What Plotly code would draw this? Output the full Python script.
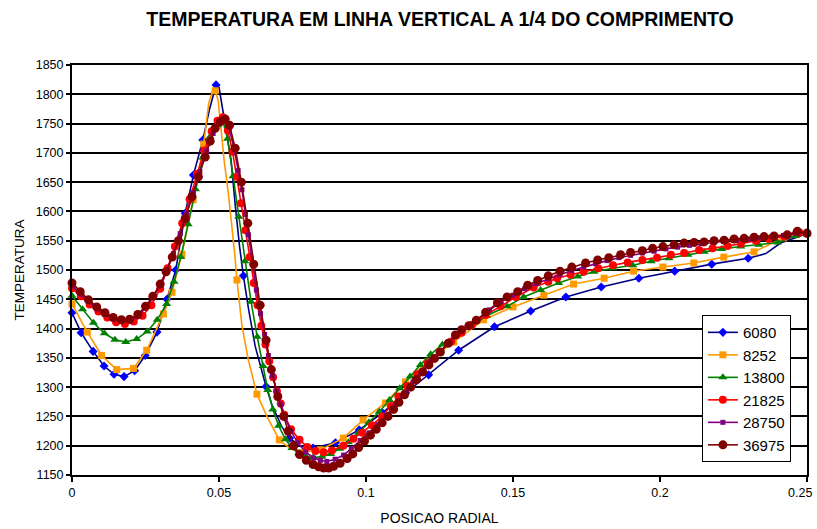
import plotly.graph_objects as go

# ---------------- data ----------------
names = ["6080", "8252", "13800", "21825", "28750", "36975"]

# 6080: marker points and extra line vertices
x_6080 = [0, 0.0031, 0.0072, 0.0109, 0.0143, 0.0177, 0.0213, 0.0249, 0.0289, 0.0323,
          0.0353, 0.0385, 0.0413, 0.0445, 0.0490, 0.0583, 0.0660, 0.0740, 0.0820, 0.0896,
          0.0977, 0.1056, 0.1135, 0.1213, 0.1315, 0.1437, 0.1560, 0.1680, 0.1800, 0.1928,
          0.2050, 0.2176, 0.2300, 0.2500]
t_6080 = [1427, 1393, 1361, 1336, 1322, 1318, 1328, 1354, 1394, 1450,
          1500, 1597, 1662, 1722, 1816, 1490, 1301, 1213, 1196, 1205,
          1227, 1256, 1290, 1321, 1363, 1403, 1430, 1454, 1471, 1486,
          1498, 1510, 1520, 1562]
x_6080_line = [0.0468, 0.0500, 0.0521, 0.0541, 0.0555, 0.0570, 0.0600, 0.0623, 0.0646,
               0.0680, 0.0714, 0.0780, 0.2360, 0.2410]
t_6080_line = [1775, 1812, 1748, 1688, 1612, 1540, 1435, 1370, 1325,
               1270, 1232, 1199, 1528, 1546]

# 8252
x_8252 = [0, 0.0052, 0.0101, 0.0152, 0.0209, 0.0254, 0.0311, 0.0340, 0.0374, 0.0412,
          0.0448, 0.0487, 0.0561, 0.0629, 0.0705, 0.0775, 0.0845, 0.0923, 0.0990, 0.1066,
          0.1134, 0.1210, 0.1298, 0.1400, 0.1500, 0.1605, 0.1706, 0.1810, 0.1910, 0.2010,
          0.2115, 0.2217, 0.2320, 0.2420, 0.2500]
t_8252 = [1442, 1394, 1354, 1330, 1332, 1363, 1425, 1462, 1527, 1620,
          1715, 1806, 1483, 1288, 1210, 1188, 1193, 1213, 1244, 1273,
          1309, 1343, 1377, 1415, 1437, 1457, 1476, 1486, 1498, 1505,
          1512, 1522, 1531, 1555, 1562]
x_8252_line = [0.0465, 0.0477, 0.0497, 0.0505, 0.0518, 0.0532, 0.0544, 0.0553, 0.0578,
               0.0600, 0.0663, 0.0740]
t_8252_line = [1785, 1804, 1790, 1745, 1685, 1630, 1578, 1530, 1405,
               1346, 1250, 1196]

# 13800
x_13800 = [0, 0.0036, 0.0073, 0.0110, 0.0146, 0.0183, 0.0220, 0.0256, 0.0290, 0.0322,
           0.0347, 0.0370, 0.0395, 0.0420, 0.0445, 0.0470, 0.0495, 0.0515, 0.0529, 0.0548,
           0.0567, 0.0588, 0.0609, 0.0630, 0.0650, 0.0666, 0.0683, 0.0703, 0.0726, 0.0748,
           0.0771, 0.0795, 0.0820, 0.0850, 0.0880, 0.0910, 0.0940, 0.0975, 0.1010, 0.1045,
           0.1080, 0.1115, 0.1150, 0.1185, 0.1220, 0.1260, 0.1305, 0.1355, 0.1410, 0.1480,
           0.1536, 0.1594, 0.1655, 0.1720, 0.1775, 0.1840, 0.1907, 0.1970, 0.2030, 0.2095,
           0.2150, 0.2210, 0.2275, 0.2336, 0.2400, 0.2460, 0.2500]
t_13800 = [1456, 1433, 1410, 1392, 1381, 1377, 1382, 1395, 1415, 1442,
           1480, 1522, 1578, 1638, 1692, 1728, 1747, 1751, 1724, 1660,
           1591, 1515, 1446, 1386, 1336, 1295, 1262, 1234, 1211, 1196,
           1187, 1182, 1180, 1181, 1186, 1195, 1206, 1222, 1240, 1258,
           1278, 1298, 1318, 1338, 1356, 1373, 1388, 1403, 1422, 1438,
           1454, 1466, 1478, 1489, 1497, 1503, 1508, 1515, 1520, 1526,
           1531, 1536, 1540, 1543, 1547, 1558, 1562]

# 21825
x_21825 = [0, 0.0030, 0.0060, 0.0090, 0.0120, 0.0150, 0.0180, 0.0210, 0.0240, 0.0270,
           0.0300, 0.0325, 0.0350, 0.0375, 0.0400, 0.0425, 0.0450, 0.0475, 0.0495, 0.0513,
           0.0530, 0.0546, 0.0561, 0.0575, 0.0590, 0.0604, 0.0618, 0.0631, 0.0644, 0.0658,
           0.0671, 0.0684, 0.0697, 0.0710, 0.0722, 0.0745, 0.0774, 0.0800, 0.0828, 0.0856,
           0.0884, 0.0923, 0.0957, 0.0987, 0.1020, 0.1055, 0.1085, 0.1110, 0.1140, 0.1175,
           0.1210, 0.1250, 0.1290, 0.1325, 0.1360, 0.1407, 0.1458, 0.1510, 0.1570, 0.1620,
           0.1650, 0.1696, 0.1740, 0.1790, 0.1840, 0.1890, 0.1940, 0.1990, 0.2037, 0.2082,
           0.2133, 0.2179, 0.2230, 0.2275, 0.2326, 0.2370, 0.2423, 0.2474, 0.2500]
t_21825 = [1469, 1455, 1441, 1429, 1419, 1411, 1408, 1412, 1422, 1440,
           1468, 1503, 1540, 1580, 1621, 1664, 1704, 1737, 1755, 1761,
           1738, 1702, 1659, 1614, 1568, 1522, 1478, 1440, 1405, 1373,
           1344, 1317, 1293, 1272, 1253, 1228, 1210, 1198, 1191, 1189,
           1192, 1200, 1212, 1222, 1235, 1250, 1268, 1284, 1302, 1322,
           1341, 1360, 1378, 1393, 1406, 1423, 1438, 1454, 1470, 1480,
           1486, 1492, 1497, 1503, 1508, 1513, 1517, 1521, 1526, 1529,
           1534, 1537, 1541, 1545, 1550, 1553, 1557, 1564, 1562]

# 28750
x_28750 = [0, 0.0028, 0.0056, 0.0084, 0.0112, 0.0140, 0.0168, 0.0196, 0.0224, 0.0250,
           0.0275, 0.0300, 0.0322, 0.0345, 0.0368, 0.0390, 0.0412, 0.0435, 0.0458, 0.0480,
           0.0500, 0.0518, 0.0533, 0.0550, 0.0565, 0.0578, 0.0590, 0.0600, 0.0614, 0.0627,
           0.0641, 0.0655, 0.0668, 0.0682, 0.0696, 0.0710, 0.0725, 0.0745, 0.0768, 0.0795,
           0.0822, 0.0845, 0.0867, 0.0895, 0.0924, 0.0950, 0.0980, 0.1010, 0.1040, 0.1070,
           0.1100, 0.1130, 0.1160, 0.1190, 0.1220, 0.1250, 0.1280, 0.1310, 0.1345, 0.1380,
           0.1420, 0.1460, 0.1500, 0.1540, 0.1580, 0.1620, 0.1660, 0.1700, 0.1740, 0.1780,
           0.1820, 0.1860, 0.1900, 0.1940, 0.1980, 0.2020, 0.2060, 0.2100, 0.2140, 0.2180,
           0.2220, 0.2260, 0.2300, 0.2340, 0.2380, 0.2420, 0.2460, 0.2500]
t_28750 = [1473, 1459, 1446, 1434, 1424, 1416, 1412, 1413, 1421, 1435,
           1453, 1474, 1498, 1528, 1562, 1597, 1632, 1668, 1703, 1733,
           1750, 1757, 1745, 1710, 1670, 1637, 1595, 1560, 1510, 1466,
           1426, 1390, 1354, 1320, 1293, 1270, 1248, 1225, 1205, 1189,
           1179, 1175, 1173, 1177, 1184, 1195, 1209, 1222, 1236, 1252,
           1270, 1290, 1309, 1327, 1344, 1360, 1375, 1390, 1403, 1416,
           1432, 1446, 1457, 1468, 1477, 1485, 1492, 1499, 1505, 1511,
           1516, 1521, 1525, 1529, 1532, 1536, 1539, 1542, 1545, 1547,
           1549, 1551, 1553, 1555, 1557, 1559, 1563, 1563]

# 36975
x_36975 = [0, 0.0028, 0.0056, 0.0084, 0.0112, 0.0140, 0.0168, 0.0196, 0.0224, 0.0250,
           0.0275, 0.0300, 0.0320, 0.0341, 0.0362, 0.0385, 0.0408, 0.0430, 0.0453, 0.0470,
           0.0487, 0.0504, 0.0521, 0.0536, 0.0555, 0.0576, 0.0598, 0.0618, 0.0640, 0.0660,
           0.0678, 0.0700, 0.0720, 0.0735, 0.0754, 0.0774, 0.0797, 0.0820, 0.0839, 0.0856,
           0.0873, 0.0890, 0.0912, 0.0936, 0.0955, 0.0975, 0.0995, 0.1015, 0.1035, 0.1055,
           0.1075, 0.1094, 0.1112, 0.1131, 0.1152, 0.1172, 0.1193, 0.1214, 0.1233, 0.1253,
           0.1280, 0.1304, 0.1325, 0.1350, 0.1375, 0.1407, 0.1447, 0.1480, 0.1516, 0.1550,
           0.1584, 0.1620, 0.1660, 0.1700, 0.1747, 0.1788, 0.1826, 0.1866, 0.1900, 0.1940,
           0.1975, 0.2010, 0.2048, 0.2082, 0.2116, 0.2150, 0.2184, 0.2218, 0.2252, 0.2286,
           0.2320, 0.2354, 0.2388, 0.2433, 0.2467, 0.2500]
t_36975 = [1478, 1463, 1449, 1437, 1427, 1419, 1415, 1416, 1424, 1438,
           1455, 1476, 1497, 1522, 1550, 1588, 1625, 1659, 1693, 1720,
           1742, 1753, 1758, 1747, 1708, 1650, 1580, 1510, 1440, 1380,
           1330, 1284, 1250, 1225, 1200, 1185, 1175, 1168, 1164, 1162,
           1162, 1165, 1170, 1178, 1186, 1197, 1208, 1218, 1228, 1239,
           1250, 1262, 1274, 1287, 1300, 1313, 1326, 1338, 1349, 1360,
           1375, 1389, 1398, 1405, 1414, 1428, 1444, 1454, 1463, 1474,
           1482, 1490, 1498, 1505, 1512, 1517, 1521, 1526, 1530, 1533,
           1537, 1540, 1543, 1546, 1547, 1548, 1550, 1551, 1553, 1554,
           1556, 1557, 1558, 1560, 1566, 1563]

x_ticks = [0, 0.05, 0.1, 0.15, 0.2, 0.25]
x_tick_labels = ["0", "0.05", "0.1", "0.15", "0.2", "0.25"]

# ---------------- styles ----------------
series = [
    (names[0], x_6080, t_6080, x_6080_line, t_6080_line, "#000080", "#0000FF", "diamond", 7),
    (names[1], x_8252, t_8252, x_8252_line, t_8252_line, "#FF9900", "#FF9900", "square", 7),
    (names[2], x_13800, t_13800, [], [], "#008000", "#008000", "triangle-up", 8),
    (names[3], x_21825, t_21825, [], [], "#FF0000", "#FF0000", "circle", 8),
    (names[4], x_28750, t_28750, [], [], "#800080", "#800080", "square", 5),
    (names[5], x_36975, t_36975, [], [], "#800000", "#800000", "circle", 9),
]

fig = go.Figure()
for name, xm, tm, xl, tl, lc, mc, sym, sz in series:
    pts = sorted(zip(list(xm) + list(xl), list(tm) + list(tl)))
    lx = [p[0] for p in pts]
    ly = [p[1] for p in pts]
    fig.add_trace(go.Scatter(x=lx, y=ly, mode="lines", line=dict(color=lc, width=1.6),
                             showlegend=False, legendgroup=name, hoverinfo="skip",
                             cliponaxis=False))
    fig.add_trace(go.Scatter(x=xm, y=tm, mode="markers", name=name,
                             marker=dict(symbol=sym, size=sz, color=mc),
                             showlegend=False, legendgroup=name, cliponaxis=False))
    fig.add_trace(go.Scatter(x=[None], y=[None], mode="lines+markers", name=name,
                             line=dict(color=lc, width=1.6),
                             marker=dict(symbol=sym, size=sz, color=mc),
                             showlegend=True, legendgroup=name))

W, H = 817, 529
# the last tick label is written as an annotation nudged left so it stays inside the window
tick_text_shown = x_tick_labels[:-1] + [""]

font_family = "Liberation Sans, Arial, sans-serif"
fig.update_layout(
    width=W, height=H,
    margin=dict(l=72, r=10, t=65, b=54, autoexpand=False),
    paper_bgcolor="white", plot_bgcolor="white",
    font=dict(family=font_family, color="black", size=12.5),
    title=dict(text="<b>TEMPERATURA EM LINHA VERTICAL A 1/4 DO COMPRIMENTO</b>",
               font=dict(family=font_family, size=19.5, color="black"),
               x=440 / W, xanchor="center", y=1 - 19 / H, yanchor="middle", yref="container"),
    showlegend=True,
    legend=dict(x=0.857, y=0.390, xanchor="left", yanchor="top",
                bgcolor="white", bordercolor="black", borderwidth=1,
                font=dict(family=font_family, size=15, color="black"),
                tracegroupgap=0, itemwidth=30),
    xaxis=dict(range=[0, 0.250001], tickvals=x_ticks, ticktext=tick_text_shown,
               showgrid=False, zeroline=False, automargin=False,
               showline=True, linecolor="black", linewidth=2, mirror=True,
               ticks="outside", ticklen=5, tickcolor="black", tickwidth=1.5,
               tickfont=dict(size=12.5),
               title=dict(text="POSICAO RADIAL", font=dict(size=14), standoff=14)),
    yaxis=dict(range=[1150, 1850], dtick=50, tick0=1150,
               showgrid=True, gridcolor="black", gridwidth=1.5, zeroline=False, automargin=False,
               showline=True, linecolor="black", linewidth=2, mirror=True,
               ticks="outside", ticklen=4, tickcolor="black", tickwidth=1.5,
               tickfont=dict(size=12.5),
               title=dict(text="TEMPERATURA", font=dict(size=13.5), standoff=8)),
)
fig.add_annotation(x=x_ticks[-1], xref="x", y=0, yref="paper",
                   text=x_tick_labels[-1], showarrow=False,
                   xanchor="center", yanchor="top", xshift=-7, yshift=-9,
                   font=dict(family=font_family, size=12.5, color="black"))

# remove the default page margin so the figure fills the window exactly
fig.write_html("out.html",
               config={"displayModeBar": False},
               post_script="document.body.style.margin='0';document.body.style.overflow='hidden';")
